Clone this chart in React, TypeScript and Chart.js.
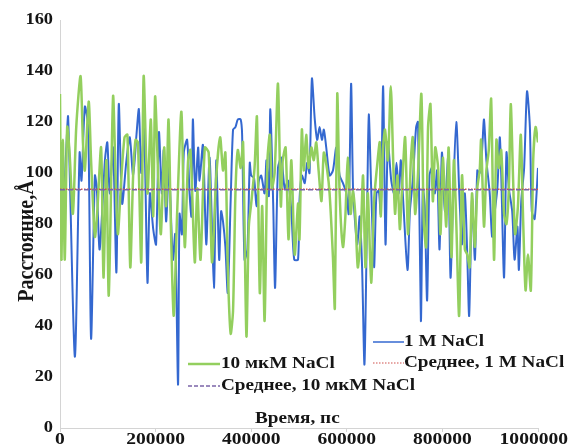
import React, { useEffect, useRef } from "react";
import { Chart, registerables } from "chart.js";

Chart.register(...registerables);

// Время, пс
const blueTimes = [0, 6000, 13000, 17000, 31000, 41000, 45000, 52000, 59000, 65000, 73000, 77000, 83000, 94000, 99000, 104000, 111000, 118000, 123000, 130000, 139000, 146000, 153000, 160000, 165000, 170000, 176000, 183000, 188000, 195000, 201000, 207000, 213000, 217000, 222000, 228000, 236000, 241000, 247000, 250000, 255000, 259000, 266000, 271000, 275000, 278000, 283000, 289000, 292000, 299000, 306000, 313000, 322000, 327000, 333000, 337000, 341000, 346000, 351000, 357000, 362000, 367000, 372000, 378000, 381000, 386000, 392000, 397000, 400000, 406000, 411000, 416000, 421000, 428000, 432000, 437000, 440000, 446000, 450000, 456000, 463000, 470000, 477000, 484000, 490000, 498000, 501000, 506000, 512000, 517000, 522000, 527000, 533000, 538000, 543000, 548000, 552000, 557000, 564000, 571000, 578000, 585000, 592000, 599000, 604000, 609000, 613000, 618000, 622000, 627000, 632000, 637000, 643000, 646000, 651000, 657000, 662000, 667000, 671000, 676000, 681000, 686000, 693000, 699000, 704000, 709000, 713000, 718000, 727000, 732000, 738000, 745000, 749000, 755000, 759000, 763000, 768000, 773000, 778000, 784000, 789000, 794000, 799000, 805000, 812000, 817000, 822000, 829000, 836000, 841000, 847000, 852000, 856000, 862000, 868000, 873000, 878000, 883000, 887000, 892000, 899000, 904000, 909000, 915000, 920000, 923000, 929000, 934000, 939000, 946000, 951000, 957000, 960000, 965000, 971000, 977000, 983000, 987000, 993000, 1000000];
// Расстояние, Å (1 M NaCl)
const blueValues = [100, 85, 109, 122, 28, 108, 97, 126, 118, 35, 99, 94, 70, 105, 112, 92, 110, 61, 127, 88, 105, 114, 99, 115, 125, 100, 118, 57, 92, 78, 72, 116, 92, 109, 81, 102, 66, 76, 17, 84, 76, 108, 113, 92, 83, 121, 93, 110, 97, 111, 72, 106, 55, 105, 66, 85, 81, 71, 53, 89, 117, 118, 121, 121, 115, 66, 70, 104, 99, 98, 87, 97, 99, 92, 105, 91, 125, 88, 55, 102, 106, 94, 97, 85, 66, 66, 89, 99, 96, 104, 100, 137, 121, 113, 118, 113, 117, 110, 99, 101, 110, 99, 96, 92, 84, 135, 94, 79, 72, 83, 63, 25, 92, 123, 94, 63, 92, 93, 84, 134, 72, 112, 97, 92, 104, 92, 105, 89, 62, 85, 97, 118, 120, 42, 94, 87, 50, 99, 102, 92, 101, 70, 108, 85, 106, 59, 88, 120, 89, 72, 92, 68, 44, 90, 66, 101, 100, 109, 121, 105, 92, 75, 84, 94, 114, 100, 59, 108, 94, 85, 66, 79, 62, 89, 102, 132, 118, 85, 82, 102];

const greenTimes = [0, 3000, 6000, 10000, 15000, 20000, 27000, 34000, 43000, 48000, 52000, 60000, 65000, 73000, 78000, 86000, 91000, 97000, 102000, 111000, 116000, 121000, 128000, 135000, 141000, 147000, 153000, 158000, 163000, 170000, 175000, 183000, 190000, 195000, 199000, 205000, 211000, 218000, 222000, 227000, 232000, 238000, 245000, 254000, 261000, 268000, 273000, 282000, 287000, 294000, 303000, 311000, 318000, 327000, 335000, 341000, 346000, 351000, 357000, 362000, 367000, 372000, 378000, 383000, 390000, 395000, 400000, 407000, 412000, 418000, 423000, 428000, 434000, 439000, 443000, 449000, 456000, 462000, 466000, 472000, 478000, 484000, 491000, 498000, 501000, 506000, 510000, 515000, 520000, 526000, 531000, 536000, 541000, 547000, 552000, 559000, 564000, 571000, 575000, 580000, 585000, 592000, 597000, 602000, 608000, 613000, 618000, 623000, 629000, 634000, 639000, 644000, 651000, 657000, 664000, 669000, 671000, 676000, 680000, 686000, 692000, 697000, 701000, 706000, 711000, 715000, 722000, 728000, 734000, 738000, 743000, 749000, 756000, 761000, 766000, 770000, 775000, 780000, 785000, 791000, 796000, 801000, 808000, 813000, 819000, 824000, 829000, 835000, 841000, 847000, 852000, 857000, 862000, 868000, 873000, 878000, 881000, 887000, 892000, 897000, 902000, 908000, 913000, 918000, 923000, 929000, 934000, 939000, 943000, 948000, 952000, 958000, 964000, 969000, 974000, 979000, 985000, 990000, 995000, 1000000];
// Расстояние, Å (10 мкМ NaCl)
const greenValues = [131, 66, 113, 66, 118, 108, 84, 118, 138, 112, 101, 128, 105, 75, 85, 110, 59, 105, 52, 130, 101, 76, 97, 114, 115, 63, 99, 113, 112, 65, 138, 92, 121, 83, 130, 101, 76, 110, 87, 121, 79, 44, 84, 124, 71, 105, 109, 65, 94, 66, 110, 108, 65, 99, 114, 101, 108, 63, 37, 46, 92, 109, 102, 112, 36, 79, 88, 102, 122, 53, 87, 42, 105, 115, 94, 100, 135, 87, 105, 110, 74, 105, 68, 88, 74, 117, 101, 115, 102, 110, 105, 112, 101, 89, 108, 101, 92, 67, 47, 131, 92, 71, 83, 106, 84, 93, 83, 63, 75, 99, 63, 92, 57, 89, 104, 112, 83, 110, 117, 105, 134, 105, 84, 99, 78, 92, 114, 76, 105, 114, 84, 100, 131, 81, 71, 118, 127, 89, 110, 102, 76, 106, 79, 110, 67, 105, 81, 44, 99, 70, 68, 63, 92, 71, 94, 101, 113, 79, 101, 109, 129, 66, 113, 102, 109, 84, 80, 94, 127, 97, 76, 87, 115, 81, 54, 68, 54, 105, 118, 112];

const meanBlue = 93.6;
const meanGreen = 93.4;

const xTicks = [0, 200000, 400000, 600000, 800000, 1000000];
const yTicks = [0, 20, 40, 60, 80, 100, 120, 140, 160];

const labels = {
  blue: "1 M NaCl",
  green: "10 мкМ NaCl",
  meanBlue: "Среднее, 1 M NaCl",
  meanGreen: "Среднее, 10 мкМ NaCl",
  xTitle: "Время, пс",
  yTitle: "Расстояние,Å",
};

const BLUE = "#3468d0";
const GREEN = "#93cf5e";
const PURPLE = "#7b64a8";
const RED = "#d0504d";
const TEXT = "#151515";
const AXIS = "#d4d4d4";
const FONT = "Liberation Serif";

function drawScaledText(ctx, text, x, y, size, sx, align = "left") {
  ctx.save();
  ctx.translate(x, y);
  ctx.scale(sx, 1);
  ctx.font = `bold ${size}px ${FONT}`;
  ctx.fillStyle = TEXT;
  ctx.textAlign = align;
  ctx.textBaseline = "middle";
  ctx.fillText(text, 0, 0);
  ctx.restore();
}

function sample(ctx, x1, x2, y, color, width, dash) {
  ctx.save();
  ctx.strokeStyle = color;
  ctx.lineWidth = width;
  ctx.setLineDash(dash);
  ctx.beginPath();
  ctx.moveTo(x1, y);
  ctx.lineTo(x2, y);
  ctx.stroke();
  ctx.restore();
}

const overlayPlugin = {
  id: "overlayText",
  afterDraw(chart) {
    const ctx = chart.ctx;
    const xs = chart.scales.x;
    const ys = chart.scales.y;
    // tick labels, placed by the chart's scales
    const tickSize = 17;
    const sx = 1.15;
    ctx.save();
    ctx.font = `bold ${tickSize}px ${FONT}`;
    const widths = xs.ticks.map((t) => ctx.measureText(String(t.value)).width * sx);
    ctx.restore();
    xs.ticks.forEach((t, i) => {
      const w = widths[i];
      let cx = xs.getPixelForValue(t.value);
      if (cx + w / 2 > chart.width - 3) cx = chart.width - 3 - w / 2;
      drawScaledText(ctx, String(t.value), cx, xs.top + 12, tickSize, sx, "center");
    });
    ys.ticks.forEach((t) => {
      drawScaledText(ctx, String(t.value), ys.right - 7, ys.getPixelForValue(t.value), tickSize, 1.08, "right");
    });
    // axis titles
    drawScaledText(ctx, labels.xTitle, 255, 419, 16, 1.2);
    ctx.save();
    ctx.translate(27, 241);
    ctx.rotate(-Math.PI / 2);
    ctx.scale(1, 1.15);
    ctx.font = `bold 20px ${FONT}`;
    ctx.fillStyle = TEXT;
    ctx.textAlign = "center";
    ctx.textBaseline = "middle";
    ctx.fillText(labels.yTitle, 0, 0);
    ctx.restore();
    // legend
    sample(ctx, 188, 220, 364, GREEN, 2.5, []);
    drawScaledText(ctx, labels.green, 221, 364, 16, 1.2);
    sample(ctx, 188, 220, 386, PURPLE, 1.5, [4, 2]);
    drawScaledText(ctx, labels.meanGreen, 221, 386, 16, 1.2);
    sample(ctx, 373, 404, 342, BLUE, 1.5, []);
    drawScaledText(ctx, labels.blue, 404, 342, 16, 1.2);
    sample(ctx, 373, 404, 363, RED, 1.2, [1.5, 1.5]);
    drawScaledText(ctx, labels.meanBlue, 404, 363, 16, 1.2);
  },
};

export default function App() {
  const ref = useRef(null);
  useEffect(() => {
    const toPts = (ts, vs) => ts.map((t, i) => ({ x: t, y: vs[i] }));
    const chart = new Chart(ref.current, {
      type: "line",
      data: {
        datasets: [
          {
            label: labels.blue,
            data: toPts(blueTimes, blueValues),
            borderColor: BLUE,
            borderWidth: 2,
            pointRadius: 0,
            tension: 0.25,
            fill: false,
            order: 3,
          },
          {
            label: labels.green,
            data: toPts(greenTimes, greenValues),
            borderColor: GREEN,
            borderWidth: 2.5,
            pointRadius: 0,
            tension: 0.25,
            fill: false,
            order: 2,
          },
          {
            label: labels.meanBlue,
            data: [
              { x: xTicks[0], y: meanBlue },
              { x: xTicks[xTicks.length - 1], y: meanBlue },
            ],
            borderColor: RED,
            borderWidth: 1.5,
            borderDash: [1.5, 1.5],
            pointRadius: 0,
            fill: false,
            order: 1,
          },
          {
            label: labels.meanGreen,
            data: [
              { x: xTicks[0], y: meanGreen },
              { x: xTicks[xTicks.length - 1], y: meanGreen },
            ],
            borderColor: PURPLE,
            borderWidth: 1.5,
            borderDash: [5, 3],
            pointRadius: 0,
            fill: false,
            order: 0,
          },
        ],
      },
      options: {
        responsive: false,
        animation: false,
        devicePixelRatio: 1,
        layout: { padding: { top: 20, right: 33, left: 0, bottom: 0 } },
        plugins: { legend: { display: false }, tooltip: { enabled: false }, title: { display: false } },
        scales: {
          x: {
            type: "linear",
            min: xTicks[0],
            max: xTicks[xTicks.length - 1],
            afterBuildTicks: (s) => {
              s.ticks = xTicks.map((v) => ({ value: v }));
            },
            afterFit: (s) => {
              s.height = 18;
            },
            ticks: { display: false, maxRotation: 0 },
            grid: { display: true, drawOnChartArea: false, drawTicks: true, tickLength: 4, color: AXIS },
            border: { display: true, color: AXIS },
          },
          y: {
            min: yTicks[0],
            max: yTicks[yTicks.length - 1],
            afterBuildTicks: (s) => {
              s.ticks = yTicks.map((v) => ({ value: v }));
            },
            afterFit: (s) => {
              s.width = 60;
            },
            ticks: { display: false },
            grid: { display: false, drawTicks: false },
            border: { display: true, color: AXIS },
          },
        },
      },
      plugins: [overlayPlugin],
    });
    return () => chart.destroy();
  }, []);
  return (
    <div style={{ position: "fixed", left: 0, top: 0, width: 571, height: 446, background: "#fff" }}>
      <canvas ref={ref} width={571} height={446} />
    </div>
  );
}
